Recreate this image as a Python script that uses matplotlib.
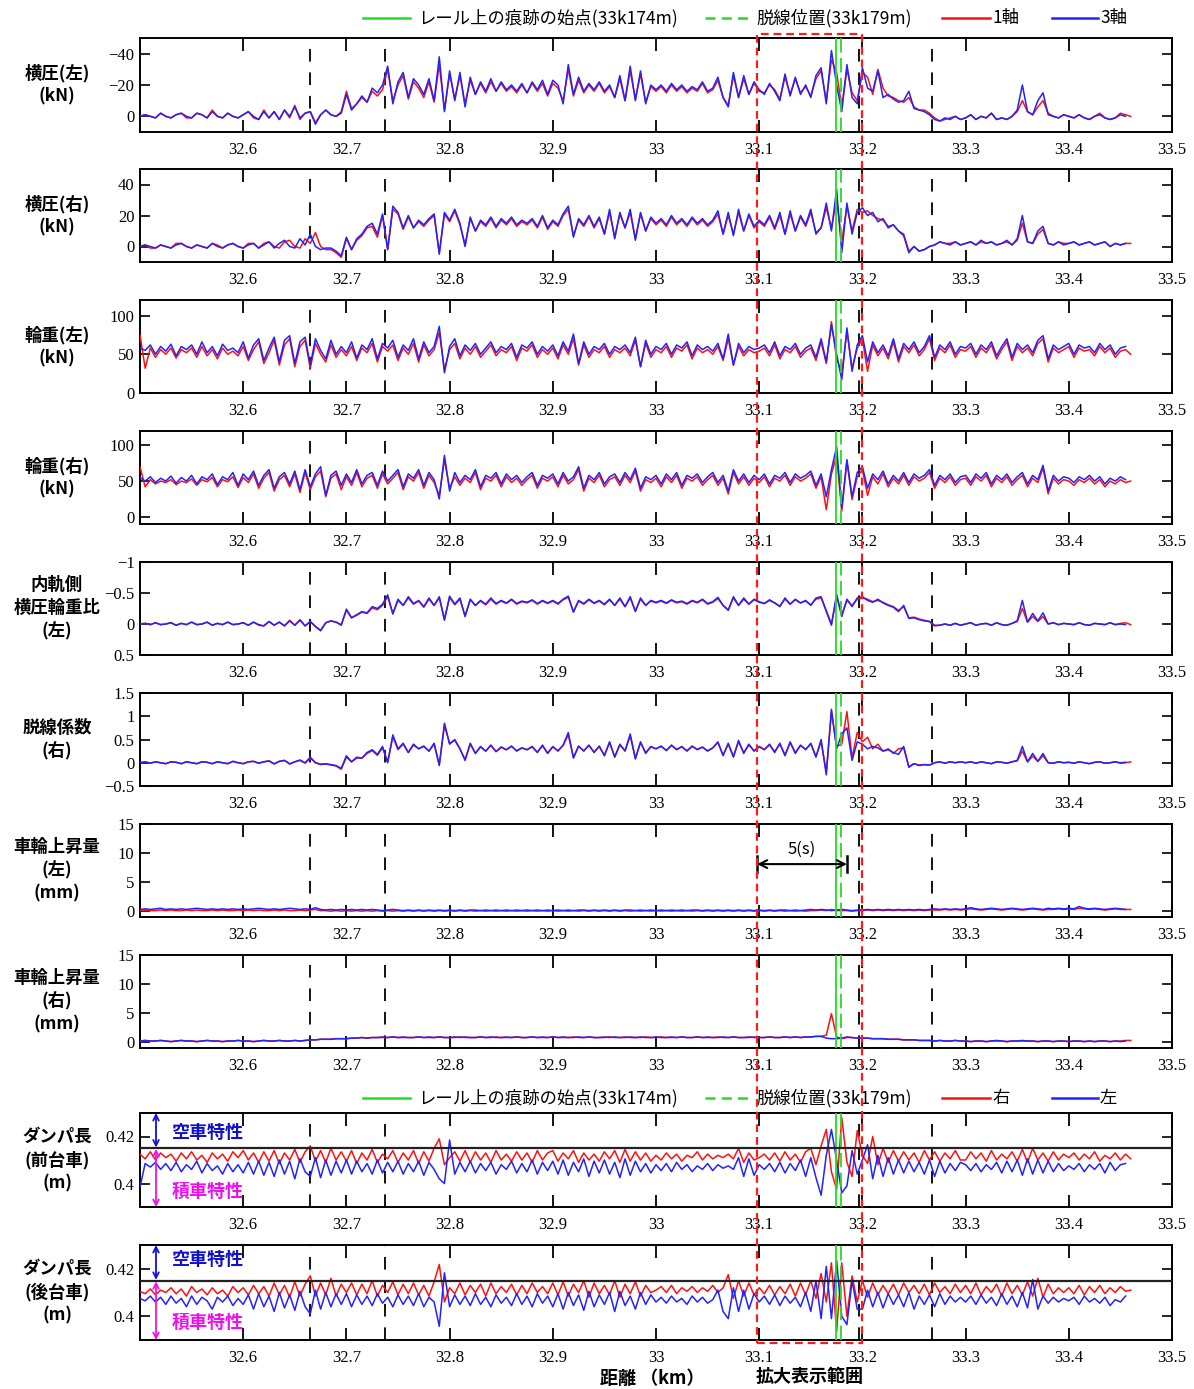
import numpy as np
import matplotlib
matplotlib.use("Agg")
import matplotlib.pyplot as plt
import matplotlib.transforms as mtransforms
from matplotlib.lines import Line2D
from matplotlib.patches import Rectangle

plt.rcParams['font.family'] = ['Noto Sans CJK JP', 'DejaVu Sans']

nan = np.nan

# distance along the line (km), one sample every 5 m
dist_km = np.round(32.5 + 0.005 * np.arange(193), 3)

trace_start_km = 33.174      # start of the mark on the rail
derail_km = 33.179           # derailment position
marker_km = [32.665, 32.737, 33.197, 33.267]
zoom_window_km = (33.098, 33.2)
span_5s_km = (33.098, 33.185)

# ---- lateral force, left (kN) ----
lat_left_ax1 = [
    0, -1, 0, 1, -2, 0, 1, -1, -2, 1, 1, -2, -1, 1, -4, 0, 1, -2, 0, 1,
    -1, -3, 1, 2, -4, 1, -3, 2, -4, 1, -7, 2, -2, -3, 4, -1, -4, -1, 0, -3,
    -16, -5, -8, -12, -9, -16, -13, -17, -30, -10, -20, -26, -11, -22, -18, -12, -22, -9, -33, -4,
    -27, -11, -26, -8, -23, -14, -21, -15, -22, -16, -21, -16, -19, -15, -20, -15, -21, -16, -21, -13,
    -21, -18, -10, -30, -13, -23, -15, -20, -16, -21, -15, -19, -12, -24, -10, -29, -11, -27, -9, -19,
    -16, -19, -15, -20, -16, -19, -15, -18, -16, -21, -15, -17, -23, -12, -7, -26, -12, -24, -14, -21,
    -16, -15, -20, -17, -11, -25, -14, -24, -15, -19, -13, -24, -29, -10, -36, -28, -6, -30, -15, -10,
    -28, -25, -14, -30, -18, -13, -12, -10, -9, -12, -6, -4, -4, -2, 1, 3, 2, 1, 0, 2,
    1, -1, 2, 0, 1, -2, 2, 1, 2, 0, -3, -10, -3, -1, -6, -10, -2, 0, 1, -1,
    0, 1, -1, 1, 2, 0, -2, 1, 2, 1, -2, -1, 0]
lat_left_ax3 = [
    0, -1, 0, 1, -2, 0, 1, -1, -2, 0, 1, -2, -1, 1, -3, 0, 1, -2, 0, 1,
    -1, -3, 0, 2, -3, 1, -3, 2, -4, 0, -6, 1, -2, -3, 5, -1, -4, -1, 0, -2,
    -14, -4, -8, -13, -9, -18, -15, -20, -32, -8, -22, -28, -12, -24, -20, -14, -24, -10, -38, -3,
    -29, -10, -28, -6, -25, -14, -22, -16, -24, -16, -22, -17, -20, -16, -21, -15, -22, -17, -23, -14,
    -23, -20, -8, -33, -14, -25, -16, -21, -17, -22, -16, -20, -12, -26, -10, -32, -10, -29, -8, -20,
    -17, -20, -16, -21, -17, -20, -16, -19, -17, -22, -16, -18, -25, -12, -6, -28, -12, -26, -14, -22,
    -17, -14, -21, -16, -10, -27, -13, -25, -14, -20, -12, -26, -31, -8, -42, -20, -3, -33, -12, -8,
    -31, -18, -16, -29, -12, -14, -11, -9, -10, -16, -5, -4, -3, -1, 2, 3, 1, 2, 0, 2,
    1, -1, 2, 0, 1, -2, 2, 1, 2, 0, -4, -20, -3, -1, -10, -15, -1, 0, 1, -1,
    0, 1, -1, 1, 2, 0, -1, 1, 2, 1, -1, 0, nan]

# ---- lateral force, right (kN) ----
lat_right_ax1 = [
    0, 1, -1, -1, 1, 0, -1, 2, 2, 0, -1, 1, 0, -1, 2, 1, -1, 1, 2, 0,
    -1, 2, 2, -1, 2, 3, 0, -1, 3, 4, 0, -1, 5, 2, 9, 0, -2, -2, -4, -7,
    5, -2, 4, 7, 12, 13, 6, 20, -2, 24, 21, 11, 19, 12, 16, 13, 17, 20, -4, 21,
    16, 23, 14, 1, 18, 10, 16, 13, 18, 12, 17, 14, 18, 13, 16, 14, 17, 12, 19, 11,
    16, 13, 20, 24, 7, 17, 13, 19, 12, 18, 8, 22, 6, 21, 12, 22, 5, 21, 10, 18,
    14, 17, 13, 19, 14, 17, 13, 18, 14, 17, 13, 16, 21, 8, 20, 8, 22, 10, 20, 12,
    16, 13, 19, 11, 20, 8, 21, 10, 19, 13, 22, 9, 12, 25, 12, 30, 3, 26, 10, 24,
    22, 23, 20, 18, 17, 13, 14, 10, 8, -3, 0, -3, -2, 0, 1, 3, 2, 2, 3, 1,
    2, 3, 1, 3, 2, 3, 1, 2, 3, 1, 4, 15, 3, 2, 8, 11, 2, 1, 3, 2,
    2, 3, 1, 2, 3, 1, 2, 3, 0, 2, 1, 2, 2]
lat_right_ax3 = [
    0, 1, 0, -1, 1, 0, -1, 1, 2, 0, -1, 1, 0, -1, 2, 0, -1, 1, 2, 0,
    -1, 1, 2, -1, 1, 3, -1, 2, 4, 0, -1, 5, 1, 8, 0, -2, -1, -1, -3, -6,
    6, -2, 5, 8, 13, 15, 8, 21, -2, 26, 22, 12, 20, 12, 17, 14, 18, 21, -5, 22,
    17, 24, 15, 0, 19, 10, 17, 14, 19, 13, 18, 15, 19, 14, 17, 15, 18, 13, 20, 12,
    17, 14, 21, 26, 6, 18, 14, 20, 13, 19, 8, 24, 5, 22, 12, 24, 4, 22, 10, 19,
    15, 18, 14, 20, 15, 18, 14, 19, 15, 18, 14, 17, 23, 8, 22, 7, 24, 10, 21, 13,
    17, 14, 20, 12, 22, 8, 23, 10, 20, 14, 24, 8, 12, 28, 10, 37, -4, 28, 8, 22,
    25, 20, 22, 16, 18, 12, 14, 10, 7, -4, 0, -3, -2, 0, 1, 3, 2, 1, 3, 1,
    2, 3, 1, 4, 2, 3, 1, 2, 4, 1, 5, 20, 3, 2, 10, 13, 2, 1, 3, 1,
    2, 3, 1, 2, 3, 1, 2, 3, 0, 2, 1, 2, nan]

# ---- wheel load, left (kN) ----
load_left_ax1 = [
    75, 32, 58, 46, 56, 50, 58, 45, 56, 52, 58, 46, 60, 48, 56, 44, 58, 50, 54, 48,
    60, 42, 56, 66, 38, 52, 68, 36, 62, 70, 34, 60, 68, 32, 64, 50, 40, 62, 46, 56,
    48, 60, 42, 58, 52, 64, 40, 60, 54, 62, 42, 58, 50, 64, 40, 62, 48, 56, 78, 30,
    56, 64, 44, 58, 50, 60, 46, 54, 62, 48, 56, 52, 60, 42, 58, 54, 62, 46, 56, 50,
    58, 44, 62, 50, 70, 36, 62, 46, 56, 52, 60, 46, 56, 52, 58, 48, 68, 34, 64, 46,
    56, 52, 60, 46, 58, 54, 62, 44, 58, 52, 56, 50, 60, 42, 70, 36, 60, 48, 56, 52,
    54, 58, 48, 62, 44, 56, 52, 60, 46, 54, 58, 42, 66, 38, 92, 45, 25, 80, 32, 58,
    70, 28, 62, 48, 58, 44, 66, 40, 60, 52, 62, 48, 56, 70, 42, 58, 52, 62, 46, 56,
    54, 60, 46, 58, 52, 62, 44, 56, 66, 42, 60, 52, 58, 48, 64, 70, 40, 58, 52, 56,
    60, 46, 58, 54, 56, 48, 60, 52, 58, 46, 54, 56, 50]
load_left_ax3 = [
    58, 55, 62, 50, 60, 54, 63, 48, 60, 56, 62, 50, 66, 52, 60, 48, 63, 55, 58, 52,
    66, 45, 62, 70, 42, 58, 72, 40, 68, 74, 38, 66, 72, 36, 70, 55, 44, 68, 50, 60,
    52, 66, 45, 62, 56, 70, 44, 64, 58, 68, 46, 62, 55, 70, 44, 66, 52, 60, 86, 26,
    60, 70, 48, 62, 55, 64, 50, 58, 66, 52, 60, 56, 64, 46, 62, 58, 66, 50, 60, 54,
    62, 48, 66, 54, 76, 38, 66, 50, 60, 56, 64, 50, 60, 56, 62, 52, 72, 34, 68, 50,
    60, 56, 64, 50, 62, 58, 66, 48, 62, 56, 60, 54, 64, 44, 76, 36, 64, 52, 60, 56,
    58, 62, 52, 66, 48, 60, 56, 64, 50, 58, 62, 46, 70, 40, 88, 50, 17, 84, 28, 62,
    74, 40, 66, 52, 62, 48, 70, 44, 64, 56, 66, 52, 60, 74, 46, 62, 56, 66, 50, 60,
    58, 64, 50, 62, 56, 66, 48, 60, 70, 46, 64, 56, 62, 52, 68, 74, 44, 62, 56, 60,
    64, 50, 62, 58, 60, 52, 64, 56, 62, 50, 58, 60, nan]

# ---- wheel load, right (kN) ----
load_right_ax1 = [
    70, 42, 52, 46, 50, 48, 52, 45, 50, 48, 53, 44, 52, 49, 55, 42, 52, 49, 56, 41,
    55, 48, 60, 40, 54, 62, 36, 52, 58, 42, 60, 34, 62, 38, 56, 64, 28, 54, 60, 38,
    56, 44, 62, 42, 54, 58, 40, 60, 46, 54, 62, 38, 56, 50, 62, 40, 58, 48, 30, 80,
    40, 56, 44, 54, 48, 62, 38, 54, 50, 58, 42, 56, 48, 54, 44, 52, 58, 40, 54, 50,
    56, 42, 58, 46, 52, 66, 36, 54, 48, 58, 42, 52, 56, 44, 58, 48, 64, 36, 52, 48,
    54, 42, 56, 48, 58, 40, 54, 50, 56, 44, 52, 58, 44, 54, 32, 62, 46, 56, 44, 54,
    48, 56, 42, 54, 50, 58, 44, 56, 50, 54, 60, 40, 56, 10, 60, 85, 8, 78, 24, 56,
    66, 30, 56, 46, 60, 42, 54, 46, 58, 44, 56, 50, 54, 62, 40, 54, 48, 56, 44, 52,
    54, 44, 56, 50, 58, 42, 54, 48, 56, 44, 52, 58, 42, 54, 48, 68, 32, 54, 46, 52,
    50, 44, 52, 48, 54, 46, 52, 42, 50, 46, 52, 48, 50]
load_right_ax3 = [
    55, 50, 56, 48, 54, 50, 57, 47, 55, 50, 58, 46, 56, 52, 60, 45, 56, 52, 62, 44,
    60, 52, 64, 44, 58, 66, 40, 56, 62, 46, 64, 38, 66, 42, 60, 70, 30, 58, 64, 44,
    60, 48, 66, 46, 58, 62, 44, 64, 50, 58, 66, 42, 60, 54, 66, 44, 62, 52, 25, 86,
    36, 62, 48, 58, 52, 66, 42, 58, 54, 62, 46, 60, 52, 58, 48, 56, 62, 44, 58, 54,
    60, 46, 62, 50, 56, 70, 40, 58, 52, 62, 46, 56, 60, 48, 62, 52, 68, 40, 56, 52,
    58, 46, 60, 52, 62, 44, 58, 54, 60, 48, 56, 62, 48, 58, 36, 66, 50, 60, 48, 58,
    52, 60, 46, 58, 54, 62, 48, 60, 54, 58, 64, 44, 60, 28, 66, 98, 12, 80, 28, 62,
    70, 40, 60, 52, 64, 46, 58, 50, 62, 48, 60, 54, 58, 66, 44, 58, 52, 60, 48, 56,
    58, 48, 60, 54, 62, 46, 58, 52, 60, 48, 56, 62, 46, 58, 52, 72, 36, 58, 50, 56,
    54, 48, 56, 52, 58, 50, 56, 46, 54, 50, 56, 52, nan]

# ---- inner-rail lateral/vertical force ratio, left ----
ratio_left_ax1 = [
    0, -0.01, 0.01, -0.02, 0.01, 0, -0.02, 0.02, -0.01, 0.01, -0.03, 0.01, 0, -0.03, 0.02, -0.01, 0.01, -0.03, 0.01, 0,
    -0.02, 0.02, -0.03, 0.02, 0.03, -0.04, 0.02, -0.03, 0.03, -0.06, 0.02, -0.07, 0.03, -0.04, 0.04, 0.1, -0.02, -0.05, -0.03, 0.01,
    -0.22, -0.1, -0.14, -0.19, -0.17, -0.26, -0.23, -0.3, -0.44, -0.17, -0.38, -0.3, -0.42, -0.32, -0.37, -0.27, -0.4, -0.3, -0.42, -0.08,
    -0.43, -0.31, -0.4, -0.13, -0.39, -0.3, -0.37, -0.31, -0.4, -0.32, -0.37, -0.33, -0.39, -0.32, -0.36, -0.34, -0.38, -0.32, -0.37, -0.33,
    -0.37, -0.32, -0.39, -0.43, -0.2, -0.37, -0.32, -0.39, -0.33, -0.37, -0.31, -0.39, -0.3, -0.4, -0.28, -0.42, -0.21, -0.4, -0.3, -0.37,
    -0.34, -0.37, -0.33, -0.38, -0.34, -0.36, -0.32, -0.37, -0.34, -0.39, -0.32, -0.35, -0.41, -0.3, -0.23, -0.42, -0.3, -0.4, -0.32, -0.39,
    -0.35, -0.33, -0.38, -0.34, -0.29, -0.4, -0.32, -0.39, -0.34, -0.37, -0.31, -0.4, -0.42, -0.22, 0, -0.44, -0.15, -0.38, -0.3, -0.4,
    -0.42, -0.4, -0.36, -0.38, -0.35, -0.31, -0.28, -0.22, -0.28, -0.1, -0.11, -0.08, -0.06, -0.04, 0.02, 0.02, 0, 0.02, -0.01, 0.02,
    0, -0.02, 0.02, 0, -0.01, 0.02, -0.02, 0.01, 0.02, -0.01, -0.04, -0.25, -0.03, -0.12, -0.04, -0.12, 0, -0.02, 0.01, -0.01,
    0, 0.01, -0.02, 0.01, 0.02, -0.01, 0, 0.01, -0.02, 0.01, -0.01, -0.02, 0.01]
ratio_left_ax3 = [
    0, -0.01, 0.01, -0.02, 0.01, 0, -0.02, 0.02, -0.01, 0.01, -0.03, 0.01, 0, -0.03, 0.02, -0.01, 0.01, -0.03, 0.01, 0,
    -0.02, 0.02, -0.03, 0.01, 0.03, -0.04, 0.02, -0.03, 0.03, -0.05, 0.02, -0.06, 0.03, -0.04, 0.04, 0.11, -0.02, -0.05, -0.03, 0.02,
    -0.24, -0.1, -0.15, -0.2, -0.18, -0.28, -0.25, -0.32, -0.47, -0.16, -0.4, -0.3, -0.44, -0.33, -0.38, -0.28, -0.42, -0.3, -0.44, -0.06,
    -0.45, -0.32, -0.42, -0.12, -0.4, -0.3, -0.38, -0.32, -0.42, -0.33, -0.38, -0.34, -0.4, -0.33, -0.37, -0.35, -0.39, -0.33, -0.38, -0.34,
    -0.38, -0.33, -0.4, -0.45, -0.19, -0.38, -0.33, -0.4, -0.34, -0.38, -0.32, -0.4, -0.3, -0.42, -0.28, -0.44, -0.2, -0.42, -0.3, -0.38,
    -0.35, -0.38, -0.34, -0.39, -0.35, -0.37, -0.33, -0.38, -0.35, -0.4, -0.33, -0.36, -0.43, -0.3, -0.22, -0.44, -0.3, -0.42, -0.32, -0.4,
    -0.36, -0.33, -0.39, -0.34, -0.28, -0.42, -0.32, -0.4, -0.34, -0.38, -0.3, -0.42, -0.44, -0.2, 0.02, -0.48, -0.12, -0.4, -0.28, -0.42,
    -0.44, -0.38, -0.35, -0.4, -0.34, -0.3, -0.27, -0.2, -0.3, -0.09, -0.1, -0.07, -0.05, -0.04, 0.03, 0.02, 0, 0.02, -0.01, 0.02,
    0, -0.02, 0.02, 0, -0.01, 0.02, -0.02, 0.01, 0.02, -0.01, -0.05, -0.38, -0.03, -0.17, -0.05, -0.18, 0, -0.02, 0.01, -0.01,
    0, 0.01, -0.02, 0.01, 0.02, -0.01, 0, 0.01, -0.02, 0.01, 0, 0.01, nan]

# ---- derailment coefficient, right ----
derail_coef_ax1 = [
    0, 0.02, -0.01, 0.02, 0, -0.02, 0.02, 0.01, -0.02, 0.02, 0, -0.02, 0.02, 0.01, -0.02, 0.02, 0, -0.02, 0.03, 0,
    -0.02, 0.02, 0.03, -0.01, 0.02, 0.04, -0.03, 0.03, 0.05, -0.03, 0.02, 0.05, -0.01, 0.1, 0, -0.04, -0.03, -0.05, -0.07, -0.14,
    0.12, 0.02, 0.1, 0.1, 0.2, 0.26, 0.16, 0.32, 0.02, 0.56, 0.28, 0.4, 0.22, 0.38, 0.3, 0.35, 0.25, 0.4, -0.04, 0.8,
    0.42, 0.48, 0.3, 0.07, 0.4, 0.2, 0.34, 0.25, 0.37, 0.24, 0.33, 0.28, 0.35, 0.26, 0.32, 0.28, 0.34, 0.23, 0.36, 0.21,
    0.34, 0.26, 0.37, 0.6, 0.12, 0.35, 0.26, 0.37, 0.23, 0.35, 0.16, 0.43, 0.13, 0.38, 0.26, 0.58, 0.1, 0.43, 0.22, 0.34,
    0.3, 0.35, 0.27, 0.37, 0.29, 0.34, 0.26, 0.35, 0.29, 0.33, 0.26, 0.32, 0.43, 0.17, 0.4, 0.14, 0.45, 0.22, 0.38, 0.26,
    0.34, 0.29, 0.38, 0.24, 0.4, 0.17, 0.43, 0.22, 0.37, 0.29, 0.4, 0.14, 0.45, -0.2, 1.1, 0.35, 0.4, 1.1, 0.1, 0.65,
    0.45, 0.55, 0.3, 0.4, 0.25, 0.3, 0.2, 0.3, 0.32, -0.08, -0.02, -0.05, -0.04, -0.05, 0, 0.02, -0.01, 0.02, 0, 0.02,
    0, 0.02, -0.01, 0.02, 0, -0.02, 0.02, 0.01, -0.01, 0.02, 0.04, 0.25, 0.02, 0.14, 0.03, 0.15, 0, -0.01, 0.02, 0,
    0.01, -0.01, 0.02, 0, -0.02, 0.01, 0.02, -0.01, 0, 0.02, -0.01, 0, 0.02]
derail_coef_ax3 = [
    0, 0.02, -0.01, 0.02, 0, -0.02, 0.02, 0.01, -0.02, 0.02, 0, -0.02, 0.02, 0.01, -0.02, 0.02, 0, -0.02, 0.03, 0,
    -0.02, 0.02, 0.03, -0.01, 0.02, 0.04, -0.02, 0.03, 0.05, -0.02, 0.02, 0.06, 0, 0.12, 0, -0.03, -0.02, -0.04, -0.06, -0.12,
    0.15, 0.02, 0.12, 0.1, 0.22, 0.28, 0.18, 0.35, 0, 0.6, 0.3, 0.42, 0.22, 0.4, 0.3, 0.36, 0.25, 0.42, -0.06, 0.85,
    0.4, 0.5, 0.3, 0.05, 0.42, 0.2, 0.35, 0.25, 0.38, 0.24, 0.34, 0.28, 0.36, 0.25, 0.32, 0.28, 0.35, 0.22, 0.38, 0.2,
    0.35, 0.25, 0.38, 0.65, 0.1, 0.36, 0.25, 0.38, 0.22, 0.36, 0.15, 0.45, 0.12, 0.4, 0.25, 0.62, 0.08, 0.45, 0.2, 0.35,
    0.3, 0.36, 0.26, 0.38, 0.28, 0.35, 0.25, 0.36, 0.28, 0.34, 0.25, 0.32, 0.45, 0.15, 0.42, 0.12, 0.48, 0.2, 0.4, 0.25,
    0.35, 0.28, 0.4, 0.22, 0.42, 0.15, 0.45, 0.2, 0.38, 0.28, 0.42, 0.12, 0.5, -0.26, 1.15, 0.3, 0.62, 0.75, 0.05, 0.45,
    0.4, 0.3, 0.35, 0.32, 0.25, 0.28, 0.22, 0.18, 0.35, -0.1, -0.02, -0.06, -0.04, -0.05, 0, 0.02, -0.01, 0.02, 0, 0.02,
    0, 0.02, -0.01, 0.02, 0, -0.02, 0.02, 0.01, -0.01, 0.02, 0.05, 0.35, 0.02, 0.2, 0.03, 0.2, 0, -0.01, 0.02, 0,
    0.01, -0.01, 0.02, 0, -0.02, 0.01, 0.02, -0.01, 0, 0.02, 0, 0.01, nan]

# ---- wheel lift, left (mm) ----
lift_left_ax1 = [
    0.1, 0.2, 0.1, 0.1, 0.2, 0.1, 0.2, 0.1, 0.1, 0.2, 0.1, 0.2, 0.1, 0.1, 0.2, 0.1, 0.2, 0.1, 0.1, 0.2,
    0.1, 0.2, 0.1, 0.2, 0.1, 0.1, 0.2, 0.1, 0.2, 0.1, 0.1, 0.2, 0.1, 0.2, 0.3, 0.1, 0.1, 0.0, 0.1, 0.0,
    0.1, 0.0, 0.1, 0.0, 0.1, 0.0, 0.1, 0.0, 0.1, 0.0, 0.1, 0.0, 0.1, 0.0, 0.1, 0.0, 0.1, 0.0, 0.1, 0.0,
    0.1, 0.0, 0.1, 0.0, 0.1, 0.0, 0.1, 0.0, 0.1, 0.0, 0.1, 0.0, 0.1, 0.0, 0.1, 0.0, 0.1, 0.0, 0.1, 0.0,
    0.1, 0.0, 0.1, 0.0, 0.1, 0.0, 0.1, 0.0, 0.1, 0.0, 0.1, 0.0, 0.1, 0.0, 0.1, 0.0, 0.1, 0.0, 0.1, 0.0,
    0.1, 0.0, 0.1, 0.0, 0.1, 0.0, 0.1, 0.0, 0.1, 0.0, 0.1, 0.0, 0.1, 0.0, 0.1, 0.0, 0.1, 0.0, 0.1, 0.0,
    0.1, 0.0, 0.1, 0.0, 0.1, 0.0, 0.1, 0.0, 0.1, 0.0, 0.1, 0.1, 0.2, 0.1, 0.3, 0.1, 0.1, 0.1, 0.0, 0.1,
    0.1, 0.2, 0.1, 0.2, 0.1, 0.2, 0.1, 0.2, 0.1, 0.2, 0.1, 0.2, 0.1, 0.2, 0.2, 0.2, 0.3, 0.2, 0.3, 0.2,
    0.3, 0.4, 0.3, 0.2, 0.3, 0.4, 0.3, 0.2, 0.3, 0.4, 0.3, 0.2, 0.3, 0.4, 0.3, 0.2, 0.3, 0.3, 0.4, 0.3,
    0.4, 0.3, 0.5, 0.4, 0.3, 0.4, 0.3, 0.2, 0.3, 0.4, 0.3, 0.3, 0.3]
lift_left_ax3 = [
    0.3, 0.4, 0.3, 0.4, 0.5, 0.3, 0.4, 0.3, 0.4, 0.3, 0.4, 0.5, 0.4, 0.3, 0.4, 0.3, 0.4, 0.3, 0.4, 0.3,
    0.4, 0.3, 0.4, 0.5, 0.4, 0.3, 0.4, 0.3, 0.4, 0.5, 0.4, 0.3, 0.4, 0.3, 0.6, 0.3, 0.2, 0.3, 0.2, 0.3,
    0.2, 0.3, 0.2, 0.3, 0.2, 0.3, 0.2, 0.1, 0.2, 0.3, 0.2, 0.1, 0.2, 0.1, 0.2, 0.1, 0.2, 0.1, 0.2, 0.1,
    0.2, 0.1, 0.2, 0.1, 0.2, 0.2, 0.1, 0.2, 0.1, 0.2, 0.1, 0.2, 0.1, 0.2, 0.1, 0.2, 0.1, 0.2, 0.1, 0.2,
    0.1, 0.2, 0.1, 0.2, 0.1, 0.2, 0.2, 0.1, 0.2, 0.1, 0.2, 0.1, 0.2, 0.1, 0.2, 0.2, 0.1, 0.2, 0.1, 0.2,
    0.1, 0.2, 0.1, 0.2, 0.1, 0.2, 0.1, 0.2, 0.2, 0.1, 0.2, 0.1, 0.2, 0.1, 0.2, 0.1, 0.2, 0.1, 0.2, 0.1,
    0.2, 0.1, 0.2, 0.1, 0.2, 0.2, 0.1, 0.2, 0.1, 0.2, 0.3, 0.2, 0.3, 0.2, 0.1, 0.2, 0.3, 0.2, 0.1, 0.2,
    0.2, 0.3, 0.2, 0.3, 0.2, 0.3, 0.2, 0.3, 0.2, 0.3, 0.2, 0.3, 0.2, 0.3, 0.4, 0.3, 0.4, 0.3, 0.4, 0.3,
    0.4, 0.6, 0.4, 0.3, 0.4, 0.5, 0.4, 0.3, 0.4, 0.5, 0.4, 0.3, 0.4, 0.5, 0.4, 0.3, 0.5, 0.4, 0.5, 0.4,
    0.5, 0.4, 0.8, 0.5, 0.4, 0.5, 0.4, 0.3, 0.4, 0.5, 0.4, 0.3, nan]

# ---- wheel lift, right (mm) ----
lift_right_ax1 = [
    0.2, 0.3, 0.2, 0.2, 0.3, 0.2, 0.1, 0.2, 0.3, 0.2, 0.2, 0.1, 0.2, 0.3, 0.2, 0.2, 0.1, 0.2, 0.2, 0.3,
    0.2, 0.2, 0.1, 0.2, 0.3, 0.2, 0.2, 0.3, 0.2, 0.2, 0.3, 0.2, 0.3, 0.4, 0.4, 0.5, 0.5, 0.5, 0.6, 0.6,
    0.6, 0.7, 0.7, 0.8, 0.7, 0.8, 0.8, 0.8, 0.8, 0.9, 0.8, 0.8, 0.8, 0.8, 0.9, 0.8, 0.8, 0.8, 0.9, 0.8,
    0.8, 0.8, 0.9, 0.8, 0.8, 0.8, 0.9, 0.8, 0.8, 0.9, 0.8, 0.8, 0.8, 0.9, 0.8, 0.8, 0.9, 0.8, 0.8, 0.8,
    0.9, 0.8, 0.8, 0.8, 0.9, 0.8, 0.8, 0.9, 0.8, 0.8, 0.8, 0.9, 0.8, 0.8, 0.9, 0.8, 0.8, 0.8, 0.9, 0.8,
    0.8, 0.9, 0.8, 0.8, 0.8, 0.9, 0.8, 0.8, 0.9, 0.8, 0.8, 0.8, 0.9, 0.8, 0.8, 0.9, 0.8, 0.8, 0.8, 0.9,
    0.8, 0.8, 0.9, 0.8, 0.8, 0.9, 0.8, 0.9, 0.8, 0.9, 0.9, 1.0, 1.0, 1.2, 4.9, 0.9, 0.6, 0.8, 0.8, 0.7,
    0.7, 0.7, 0.6, 0.6, 0.6, 0.5, 0.5, 0.5, 0.4, 0.4, 0.4, 0.3, 0.3, 0.3, 0.2, 0.3, 0.2, 0.2, 0.3, 0.2,
    0.2, 0.1, 0.2, 0.2, 0.1, 0.2, 0.2, 0.2, 0.1, 0.2, 0.2, 0.2, 0.2, 0.2, 0.1, 0.2, 0.2, 0.1, 0.2, 0.2,
    0.1, 0.2, 0.2, 0.1, 0.2, 0.1, 0.2, 0.2, 0.1, 0.2, 0.2, 0.3, 0.3]
lift_right_ax3 = [
    0.2, 0.3, 0.2, 0.2, 0.3, 0.2, 0.1, 0.2, 0.3, 0.2, 0.2, 0.1, 0.2, 0.3, 0.2, 0.2, 0.1, 0.2, 0.2, 0.3,
    0.2, 0.2, 0.1, 0.2, 0.3, 0.2, 0.2, 0.3, 0.2, 0.2, 0.3, 0.2, 0.3, 0.4, 0.4, 0.5, 0.5, 0.5, 0.6, 0.6,
    0.6, 0.7, 0.7, 0.8, 0.7, 0.8, 0.8, 0.9, 0.8, 0.9, 0.8, 0.9, 0.8, 0.8, 0.9, 0.8, 0.9, 0.8, 0.9, 0.8,
    0.8, 0.9, 0.8, 0.9, 0.8, 0.8, 0.9, 0.8, 0.9, 0.8, 0.8, 0.9, 0.8, 0.9, 0.8, 0.8, 0.9, 0.8, 0.9, 0.8,
    0.9, 0.8, 0.9, 0.8, 0.8, 0.9, 0.8, 0.9, 0.8, 0.8, 0.9, 0.8, 0.9, 0.8, 0.8, 0.9, 0.8, 0.9, 0.8, 0.8,
    0.9, 0.8, 0.8, 0.9, 0.8, 0.9, 0.8, 0.8, 0.9, 0.8, 0.9, 0.8, 0.8, 0.9, 0.8, 0.9, 0.8, 0.8, 0.9, 0.8,
    0.8, 0.8, 0.9, 0.8, 0.8, 0.9, 0.8, 0.9, 0.8, 0.9, 0.9, 1.0, 1.0, 0.7, 0.6, 0.6, 0.7, 0.9, 0.8, 0.7,
    0.7, 0.7, 0.6, 0.6, 0.6, 0.5, 0.5, 0.5, 0.4, 0.4, 0.4, 0.3, 0.3, 0.3, 0.2, 0.3, 0.2, 0.2, 0.3, 0.2,
    0.2, 0.1, 0.2, 0.2, 0.1, 0.2, 0.3, 0.2, 0.1, 0.2, 0.2, 0.3, 0.2, 0.2, 0.1, 0.2, 0.2, 0.1, 0.2, 0.2,
    0.1, 0.2, 0.2, 0.1, 0.2, 0.1, 0.2, 0.2, 0.1, 0.2, 0.1, 0.2, nan]

# ---- damper length, front bogie (m): right / left ----
damper_front_right = [
    .4125, .4105, .4135, .4100, .4130, .4110, .4125, .4095, .4130, .4105, .4135, .4100, .4120, .4090, .4130, .4105, .4125, .4095, .4135, .4110,
    .4140, .4100, .4130, .4090, .4135, .4095, .4140, .4085, .4130, .4100, .4145, .4090, .4135, .4160, .4095, .4140, .4090, .4150, .4100, .4135,
    .4095, .4140, .4085, .4130, .4100, .4145, .4090, .4125, .4105, .4140, .4090, .4130, .4100, .4140, .4085, .4135, .4095, .4150, .4190, .4080,
    .4110, .4135, .4095, .4140, .4090, .4135, .4100, .4130, .4090, .4140, .4100, .4125, .4095, .4135, .4100, .4130, .4090, .4140, .4100, .4130,
    .4140, .4095, .4130, .4105, .4140, .4090, .4130, .4100, .4125, .4095, .4135, .4105, .4140, .4090, .4145, .4095, .4135, .4100, .4130, .4095,
    .4120, .4100, .4130, .4105, .4125, .4095, .4120, .4110, .4135, .4100, .4125, .4105, .4120, .4110, .4125, .4105, .4150, .4090, .4130, .4100,
    .4110, .4125, .4100, .4130, .4095, .4135, .4100, .4125, .4090, .4135, .4150, .4080, .4160, .4230, .4050, .3975, .4280, .4090, .4030, .4225,
    .4120, .4085, .4200, .4080, .4150, .4090, .4140, .4095, .4135, .4100, .4130, .4090, .4140, .4100, .4135, .4095, .4130, .4105, .4140, .4100,
    .4100, .4135, .4105, .4130, .4095, .4140, .4100, .4125, .4105, .4135, .4095, .4145, .4090, .4150, .4100, .4130, .4095, .4135, .4100, .4125,
    .4110, .4130, .4100, .4125, .4105, .4135, .4095, .4120, .4105, .4130, .4100, .4125, .4105]
damper_front_left = [
    .3985, .4085, .4070, .4090, .4060, .4085, .4055, .4090, .4050, .4080, .4060, .4095, .4045, .4085, .4055, .4075, .4040, .4085, .4050, .4080,
    .4045, .4090, .4040, .4095, .4035, .4090, .4030, .4100, .4040, .4095, .4020, .4105, .4050, .4030, .4110, .4025, .4100, .4035, .4095, .4045,
    .4100, .4040, .4095, .4050, .4085, .4040, .4100, .4045, .4090, .4050, .4095, .4040, .4085, .4050, .4095, .4035, .4090, .4060, .4020, .4000,
    .4185, .4040, .4090, .4050, .4095, .4045, .4085, .4055, .4090, .4040, .4080, .4060, .4095, .4045, .4085, .4050, .4100, .4040, .4090, .4055,
    .4095, .4040, .4100, .4035, .4090, .4050, .4105, .4030, .4095, .4045, .4100, .4040, .4090, .4025, .4105, .4035, .4095, .4050, .4085, .4045,
    .4080, .4055, .4085, .4050, .4090, .4060, .4080, .4050, .4075, .4060, .4085, .4055, .4080, .4065, .4075, .4060, .4110, .4030, .4105, .4035,
    .4080, .4060, .4085, .4050, .4090, .4045, .4085, .4055, .4100, .4030, .4110, .4025, .3950, .4120, .4230, .4100, .3960, .3990, .4140, .4040,
    .4100, .4165, .4020, .4120, .4030, .4110, .4040, .4100, .4045, .4095, .4050, .4090, .4040, .4100, .4030, .4095, .4045, .4085, .4055, .4090,
    .4080, .4055, .4085, .4050, .4080, .4060, .4090, .4045, .4095, .4050, .4100, .4035, .4105, .4040, .4100, .4045, .4095, .4050, .4085, .4055,
    .4075, .4060, .4085, .4050, .4080, .4060, .4085, .4045, .4090, .4055, .4080, .4085, nan]

# ---- damper length, rear bogie (m): right / left ----
damper_rear_right = [
    .4105, .4095, .4115, .4090, .4110, .4100, .4120, .4095, .4115, .4085, .4125, .4100, .4115, .4090, .4120, .4095, .4110, .4085, .4125, .4100,
    .4120, .4090, .4130, .4095, .4125, .4085, .4140, .4090, .4130, .4080, .4145, .4085, .4135, .4170, .4085, .4140, .4090, .4160, .4085, .4135,
    .4100, .4140, .4090, .4135, .4095, .4150, .4085, .4130, .4100, .4145, .4090, .4135, .4095, .4140, .4090, .4130, .4085, .4145, .4218, .4060,
    .4120, .4095, .4140, .4090, .4130, .4100, .4135, .4085, .4140, .4095, .4125, .4100, .4135, .4090, .4130, .4095, .4140, .4100, .4125, .4095,
    .4140, .4090, .4145, .4085, .4135, .4100, .4150, .4080, .4140, .4095, .4130, .4090, .4150, .4080, .4135, .4095, .4145, .4085, .4130, .4100,
    .4110, .4125, .4100, .4130, .4095, .4120, .4105, .4125, .4100, .4120, .4105, .4130, .4100, .4120, .4175, .4075, .4150, .4085, .4140, .4090,
    .4120, .4095, .4130, .4090, .4125, .4095, .4135, .4085, .4140, .4090, .4150, .4075, .4180, .4060, .4225, .3935, .4225, .4000, .4170, .4060,
    .4150, .4080, .4140, .4090, .4130, .4095, .4135, .4090, .4140, .4100, .4130, .4095, .4135, .4090, .4140, .4100, .4125, .4095, .4135, .4100,
    .4130, .4095, .4140, .4090, .4125, .4100, .4135, .4085, .4140, .4095, .4130, .4090, .4145, .4085, .4160, .4080, .4135, .4095, .4120, .4100,
    .4120, .4095, .4130, .4090, .4125, .4100, .4130, .4095, .4120, .4100, .4125, .4105, .4110]
damper_rear_left = [
    .4075, .4065, .4085, .4060, .4080, .4050, .4085, .4055, .4075, .4040, .4085, .4050, .4080, .4065, .4030, .4080, .4060, .4085, .4045, .4075,
    .4050, .4090, .4030, .4095, .4040, .4085, .4020, .4100, .4035, .4090, .4025, .4105, .4040, .4010, .4110, .4030, .4100, .4040, .4095, .4050,
    .4095, .4040, .4090, .4050, .4085, .4045, .4095, .4055, .4080, .4040, .4090, .4050, .4085, .4045, .4095, .4040, .4080, .4060, .3958, .4183,
    .4040, .4090, .4050, .4085, .4045, .4095, .4050, .4080, .4040, .4090, .4055, .4080, .4045, .4095, .4050, .4085, .4040, .4095, .4055, .4085,
    .4040, .4095, .4030, .4100, .4045, .4090, .4025, .4105, .4040, .4090, .4050, .4100, .4020, .4105, .4045, .4085, .4030, .4100, .4050, .4090,
    .4060, .4080, .4055, .4085, .4060, .4075, .4050, .4085, .4060, .4080, .4055, .4070, .4110, .4020, .3990, .4120, .4020, .4110, .4030, .4095,
    .4060, .4085, .4050, .4090, .4045, .4085, .4055, .4080, .4040, .4100, .4020, .4150, .3990, .4210, .3990, .4235, .4000, .3965, .4150, .4030,
    .4030, .4110, .4040, .4100, .4035, .4095, .4050, .4090, .4040, .4100, .4030, .4085, .4050, .4090, .4040, .4095, .4050, .4085, .4060, .4080,
    .4060, .4085, .4050, .4090, .4055, .4080, .4045, .4095, .4050, .4085, .4040, .4100, .4035, .4155, .4030, .4085, .4055, .4080, .4060, .4075,
    .4065, .4080, .4050, .4085, .4060, .4075, .4055, .4080, .4045, .4070, .4060, .4085, nan]

x_ticks = [32.6, 32.7, 32.8, 32.9, 33.0, 33.1, 33.2, 33.3, 33.4, 33.5]
x_ticklabels = ['32.6', '32.7', '32.8', '32.9', '33', '33.1', '33.2', '33.3', '33.4', '33.5']

RED = '#ff1010'
BLUE = '#2222ff'
GREEN = '#22dd22'

panels = [
    dict(label='横圧(左)\n(kN)', red=lat_left_ax1, blue=lat_left_ax3,
         ylim=(10, -50), yticks=[-40, -20, 0], ytl=['−40', '−20', '0']),
    dict(label='横圧(右)\n(kN)', red=lat_right_ax1, blue=lat_right_ax3,
         ylim=(-10, 50), yticks=[0, 20, 40], ytl=['0', '20', '40']),
    dict(label='輪重(左)\n(kN)', red=load_left_ax1, blue=load_left_ax3,
         ylim=(0, 120), yticks=[0, 50, 100], ytl=['0', '50', '100']),
    dict(label='輪重(右)\n(kN)', red=load_right_ax1, blue=load_right_ax3,
         ylim=(-10, 120), yticks=[0, 50, 100], ytl=['0', '50', '100']),
    dict(label='内軌側\n横圧輪重比\n(左)', red=ratio_left_ax1, blue=ratio_left_ax3,
         ylim=(0.5, -1), yticks=[0.5, 0, -0.5, -1], ytl=['0.5', '0', '−0.5', '−1']),
    dict(label='脱線係数\n(右)', red=derail_coef_ax1, blue=derail_coef_ax3,
         ylim=(-0.5, 1.5), yticks=[-0.5, 0, 0.5, 1, 1.5], ytl=['−0.5', '0', '0.5', '1', '1.5']),
    dict(label='車輪上昇量\n(左)\n(mm)', red=lift_left_ax1, blue=lift_left_ax3,
         ylim=(-1, 15), yticks=[0, 5, 10, 15], ytl=['0', '5', '10', '15']),
    dict(label='車輪上昇量\n(右)\n(mm)', red=lift_right_ax1, blue=lift_right_ax3,
         ylim=(-1, 15), yticks=[0, 5, 10, 15], ytl=['0', '5', '10', '15']),
    dict(label='ダンパ長\n(前台車)\n(m)', red=damper_front_right, blue=damper_front_left,
         ylim=(0.39, 0.43), yticks=[0.4, 0.42], ytl=['0.4', '0.42']),
    dict(label='ダンパ長\n(後台車)\n(m)', red=damper_rear_right, blue=damper_rear_left,
         ylim=(0.39, 0.43), yticks=[0.4, 0.42], ytl=['0.4', '0.42']),
]

# panel frames in pixel rows (top, bottom) of the 1194 x 1389 canvas
W, H = 1194, 1389
panel_rows = [(38, 132), (169, 262), (300, 393), (431, 524), (562, 655),
              (693, 786), (824, 917), (955, 1048), (1113, 1207), (1245, 1340)]
AX_LEFT, AX_RIGHT = 140, 1172


def fx(px):
    return px / W


def fy(py):
    return 1 - py / H


fig = plt.figure(figsize=(W / 100, H / 100), dpi=100)
fig.patch.set_facecolor('white')

serif = 'Liberation Serif'
axes = []
for p, (top, bot) in zip(panels, panel_rows):
    ax = fig.add_axes([fx(AX_LEFT), fy(bot), (AX_RIGHT - AX_LEFT) / W, (bot - top) / H])
    axes.append(ax)
    ax.plot(dist_km, p['red'], color=RED, lw=1.1, zorder=3)
    ax.plot(dist_km, p['blue'], color=BLUE, lw=1.1, zorder=4)
    ax.set_xlim(32.5, 33.5)
    ax.set_ylim(*p['ylim'])
    ax.set_xticks(x_ticks)
    ax.set_xticklabels(x_ticklabels, fontfamily=serif, fontsize=12)
    ax.set_yticks(p['yticks'])
    ax.set_yticklabels(p['ytl'], fontfamily=serif, fontsize=12)
    ax.tick_params(axis='x', direction='in', top=True, bottom=True, length=9, width=1.3, pad=7)
    ax.tick_params(axis='y', direction='in', left=True, right=True, length=7, width=1.2, pad=4)
    for s in ax.spines.values():
        s.set_linewidth(1.4)
    for xm in marker_km:
        ax.axvline(xm, color='black', lw=1.3, dashes=(7, 6), zorder=2)
    ax.axvline(trace_start_km, color=GREEN, lw=1.3, zorder=5)
    ax.axvline(derail_km, color=GREEN, lw=1.3, dashes=(8, 3), zorder=5)
    fig.text(fx(57), fy((top + bot) / 2), p['label'], ha='center', va='center',
             fontsize=12.5, fontweight='bold', linespacing=1.35, multialignment='center')

# 5-second span marker in the left wheel-lift panel
ax7 = axes[6]
ax7.annotate('', xy=(span_5s_km[0], 8.1), xytext=(span_5s_km[1], 8.1),
             arrowprops=dict(arrowstyle='<->', color='black', lw=1.5,
                             shrinkA=0, shrinkB=0, mutation_scale=14), zorder=6)
for xe in span_5s_km:
    ax7.plot([xe, xe], [6.7, 9.5], color='black', lw=1.8, zorder=6)
ax7.text(sum(span_5s_km) / 2, 10.7, '5(s)', ha='center', va='center', fontsize=12)

# damper panels: neutral line and empty / loaded characteristic ranges
damper_text_y = [(0.4215, 0.3968), (0.4237, 0.3976)]
for ax, (ty_empty, ty_loaded) in zip(axes[8:], damper_text_y):
    ax.axhline(0.415, color='#222222', lw=1.6, zorder=5)
    ax.annotate('', xy=(32.5155, 0.4300), xytext=(32.5155, 0.4153),
                arrowprops=dict(arrowstyle='<->', color='#1010dd', lw=1.3,
                                shrinkA=0, shrinkB=0, mutation_scale=10), zorder=6)
    ax.annotate('', xy=(32.5155, 0.4147), xytext=(32.5155, 0.3900),
                arrowprops=dict(arrowstyle='<->', color='#ee11ee', lw=1.3,
                                shrinkA=0, shrinkB=0, mutation_scale=10), zorder=6)
    ax.text(32.531, ty_empty, '空車特性', color='#1010cc', fontsize=13,
            ha='left', va='center', fontweight='bold', zorder=7)
    ax.text(32.531, ty_loaded, '積車特性', color='#ee11ee', fontsize=13,
            ha='left', va='center', fontweight='bold', zorder=7)

# zoom window frame running through all panels
trans = mtransforms.blended_transform_factory(axes[0].transData, fig.transFigure)
frame = Rectangle((zoom_window_km[0], fy(1343)), zoom_window_km[1] - zoom_window_km[0],
                  fy(34) - fy(1343), transform=trans, fill=False, edgecolor='#ff1a1a',
                  lw=1.6, ls=(0, (3.5, 2.2)), zorder=20, clip_on=False)
fig.add_artist(frame)


def draw_legend(y_px, red_text, blue_text):
    items = [
        (363, 410, GREEN, None, 418, 'レール上の痕跡の始点(33k174m)'),
        (705, 750, GREEN, (4, 2.5), 756, '脱線位置(33k179m)'),
        (942, 990, RED, None, 992, red_text),
        (1052, 1098, BLUE, None, 1100, blue_text),
    ]
    for x0, x1, col, dash, tx, txt in items:
        ln = Line2D([fx(x0), fx(x1)], [fy(y_px), fy(y_px)], transform=fig.transFigure,
                    color=col, lw=1.8)
        if dash:
            ln.set_dashes(dash)
        fig.add_artist(ln)
        fig.text(fx(tx), fy(y_px), txt, ha='left', va='center', fontsize=12.5)


draw_legend(18, '1軸', '3軸')
draw_legend(1098, '右', '左')

fig.text(fx(652), fy(1378), '距離 （km）', ha='center', va='center', fontsize=13, fontweight='bold')
fig.text(fx(810), fy(1376), '拡大表示範囲', ha='center', va='center', fontsize=13, fontweight='bold')

fig.savefig('out.png', dpi=100, facecolor='white')
